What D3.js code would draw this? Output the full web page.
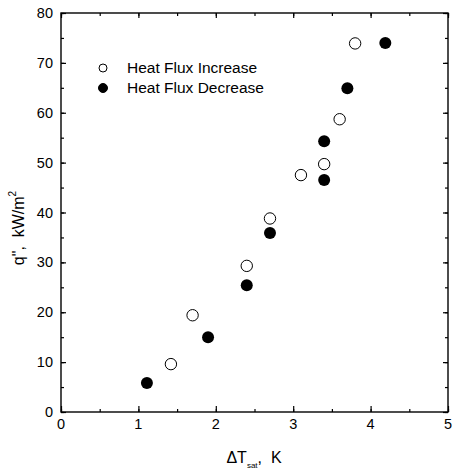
<!DOCTYPE html>
<html>
<head>
<meta charset="UTF-8">
<script src="https://d3js.org/d3.v7.min.js"></script>
<style>
  body { margin: 0; background: #fff; }
  svg { font-family: "Liberation Sans", Arial, sans-serif; }
</style>
</head>
<body>
<svg id="chart" width="454" height="470"></svg>
<script>
// data
const incX = [1.42, 1.70, 2.40, 2.70, 3.10, 3.40, 3.60, 3.80];
const incY = [9.6, 19.4, 29.3, 38.8, 47.5, 49.7, 58.7, 73.9];
const decX = [1.11, 1.90, 2.40, 2.70, 3.40, 3.40, 3.70, 4.19];
const decY = [5.8, 15.0, 25.4, 35.9, 46.5, 54.3, 64.9, 74.0];
const xTicks = [0, 1, 2, 3, 4, 5];
const yTicks = [0, 10, 20, 30, 40, 50, 60, 70, 80];
const legendNames = ["Heat Flux Increase", "Heat Flux Decrease"];

const svg = d3.select("#chart");
const m = { left: 61, right: 448, top: 13, bottom: 412 };
const x = d3.scaleLinear().domain([0, 5]).range([m.left, m.right]);
const y = d3.scaleLinear().domain([0, 80]).range([m.bottom, m.top]);

// frame
svg.append("rect")
  .attr("x", m.left).attr("y", m.top)
  .attr("width", m.right - m.left).attr("height", m.bottom - m.top)
  .attr("fill", "none").attr("stroke", "#000").attr("stroke-width", 1.4);

// axes with inward ticks
const xMinor = d3.range(0, 5.01, 0.5);
const yMinor = d3.range(0, 80.1, 5);

svg.append("g").attr("transform", `translate(0,${m.bottom})`)
  .call(d3.axisTop(x).tickValues(xMinor).tickSize(3).tickFormat(""));
svg.append("g").attr("transform", `translate(0,${m.bottom})`)
  .call(d3.axisTop(x).tickValues(xTicks).tickSize(6).tickFormat(""));
svg.append("g").attr("transform", `translate(0,${m.top})`)
  .call(d3.axisBottom(x).tickValues(xMinor).tickSize(3).tickFormat(""));
svg.append("g").attr("transform", `translate(0,${m.top})`)
  .call(d3.axisBottom(x).tickValues(xTicks).tickSize(5).tickFormat(""));

svg.append("g").attr("transform", `translate(${m.left},0)`)
  .call(d3.axisRight(y).tickValues(yMinor).tickSize(3).tickFormat(""));
svg.append("g").attr("transform", `translate(${m.left},0)`)
  .call(d3.axisRight(y).tickValues(yTicks).tickSize(5).tickFormat(""));
svg.append("g").attr("transform", `translate(${m.right},0)`)
  .call(d3.axisLeft(y).tickValues(yMinor).tickSize(3).tickFormat(""));
svg.append("g").attr("transform", `translate(${m.right},0)`)
  .call(d3.axisLeft(y).tickValues(yTicks).tickSize(5).tickFormat(""));

svg.selectAll(".domain").remove();
svg.selectAll(".tick line").attr("stroke", "#000").attr("stroke-width", 1.2);

// tick labels
svg.append("g").selectAll("text").data(xTicks).join("text")
  .attr("x", d => x(d)).attr("y", 429)
  .attr("text-anchor", "middle").attr("font-size", 14.5)
  .text(d => d);
svg.append("g").selectAll("text").data(yTicks).join("text")
  .attr("x", 53).attr("y", d => y(d) + 5)
  .attr("text-anchor", "end").attr("font-size", 14.5)
  .text(d => d);

// axis titles
const xt = svg.append("text").attr("x", 254).attr("y", 463)
  .attr("text-anchor", "middle").attr("font-size", 16);
xt.append("tspan").text("ΔT");
xt.append("tspan").attr("font-size", 8).attr("dy", 5).text("sat");
xt.append("tspan").attr("dy", -5).text(",\u00a0\u00a0K");

const yt = svg.append("text")
  .attr("transform", "translate(24,228) rotate(-90)")
  .attr("text-anchor", "middle").attr("font-size", 16);
yt.append("tspan").text("q\",\u00a0\u00a0kW/m");
yt.append("tspan").attr("font-size", 10).attr("dy", -8).text("2");

// points
svg.append("g").selectAll("circle").data(incX).join("circle")
  .attr("cx", d => x(d)).attr("cy", (d, i) => y(incY[i])).attr("r", 5.7)
  .attr("fill", "#fff").attr("stroke", "#000").attr("stroke-width", 1);
svg.append("g").selectAll("circle").data(decX).join("circle")
  .attr("cx", d => x(d)).attr("cy", (d, i) => y(decY[i])).attr("r", 6)
  .attr("fill", "#000");

// legend
const lg = svg.append("g");
legendNames.forEach((name, i) => {
  const ly = 68 + i * 20;
  lg.append("circle").attr("cx", 103).attr("cy", ly).attr("r", i === 0 ? 4 : 4.5)
    .attr("fill", i === 0 ? "#fff" : "#000").attr("stroke", "#000").attr("stroke-width", 1);
  lg.append("text").attr("x", 127).attr("y", ly + 5)
    .attr("font-size", 15.5).text(name);
});
</script>
</body>
</html>
